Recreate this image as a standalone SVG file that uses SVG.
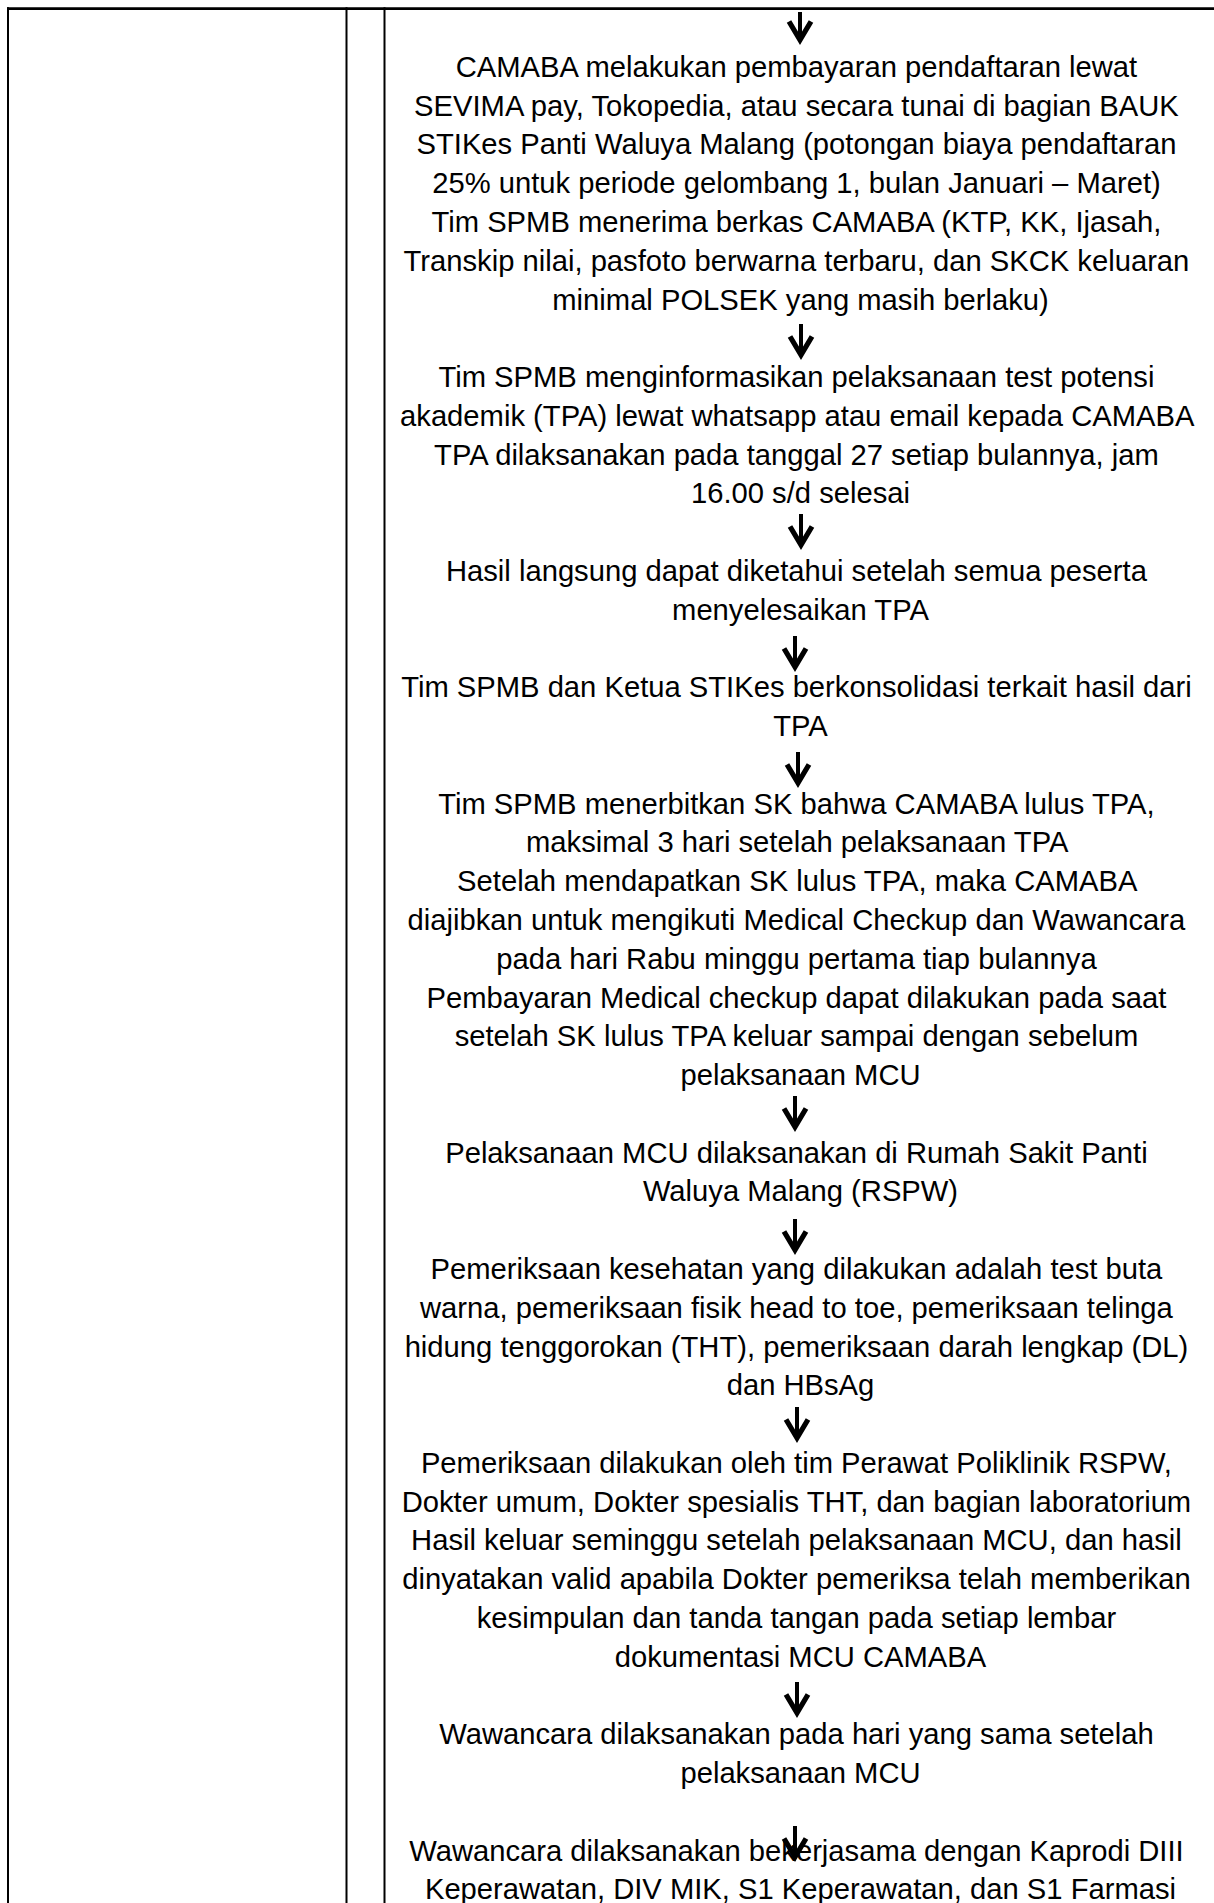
<svg xmlns="http://www.w3.org/2000/svg" width="1214" height="1903" viewBox="0 0 1214 1903">
  <style>
    .rule { stroke: #000; stroke-width: 2; fill: none; }
    .top { stroke: #000; stroke-width: 2.6; fill: none; }
    .step { font-family: "Liberation Sans", Arial, sans-serif; font-size: 29.2px; fill: #000; text-anchor: middle; }
    .arrow { stroke: #000; stroke-width: 4; fill: none; marker-end: url(#head); }
  </style>
  <defs>
    <marker id="head" viewBox="-24 -16 32 32" markerWidth="32" markerHeight="32" refX="0" refY="0" orient="auto" markerUnits="userSpaceOnUse">
      <path d="M-18.5,-11 L0,0 L-18.5,11" fill="none" stroke="#000" stroke-width="5.2" stroke-linejoin="miter" stroke-miterlimit="10"/>
    </marker>
  </defs>
  <rect width="1214" height="1903" fill="#fff"/>

  <g id="table">
    <line class="top" x1="7" y1="8.6" x2="1214" y2="8.6"/>
    <line class="rule" x1="8" y1="7.3" x2="8" y2="1903"/>
    <line class="rule" x1="346.5" y1="7.3" x2="346.5" y2="1903"/>
    <line class="rule" x1="384.5" y1="7.3" x2="384.5" y2="1903"/>
  </g>

  <g id="step-1">
    <text class="step">
      <tspan x="800.5" y="76.8">CAMABA melakukan pembayaran pendaftaran lewat</tspan>
      <tspan x="800.5" y="115.6">SEVIMA pay, Tokopedia, atau secara tunai di bagian BAUK</tspan>
      <tspan x="800.5" y="154.4">STIKes Panti Waluya Malang (potongan biaya pendaftaran</tspan>
      <tspan x="800.5" y="193.1">25% untuk periode gelombang 1, bulan Januari – Maret)</tspan>
      <tspan x="800.5" y="231.9">Tim SPMB menerima berkas CAMABA (KTP, KK, Ijasah,</tspan>
      <tspan x="800.5" y="270.7">Transkip nilai, pasfoto berwarna terbaru, dan SKCK keluaran</tspan>
      <tspan x="800.5" y="309.5">minimal POLSEK yang masih berlaku)</tspan>
    </text>
  </g>
  <g id="step-2">
    <text class="step">
      <tspan x="800.5" y="387.0">Tim SPMB menginformasikan pelaksanaan test potensi</tspan>
      <tspan x="800.5" y="425.8">akademik (TPA) lewat whatsapp atau email kepada CAMABA</tspan>
      <tspan x="800.5" y="464.6">TPA dilaksanakan pada tanggal 27 setiap bulannya, jam</tspan>
      <tspan x="800.5" y="503.4">16.00 s/d selesai</tspan>
    </text>
  </g>
  <g id="step-3">
    <text class="step">
      <tspan x="800.5" y="580.9">Hasil langsung dapat diketahui setelah semua peserta</tspan>
      <tspan x="800.5" y="619.7">menyelesaikan TPA</tspan>
    </text>
  </g>
  <g id="step-4">
    <text class="step">
      <tspan x="800.5" y="697.3">Tim SPMB dan Ketua STIKes berkonsolidasi terkait hasil dari</tspan>
      <tspan x="800.5" y="736.1">TPA</tspan>
    </text>
  </g>
  <g id="step-5">
    <text class="step">
      <tspan x="800.5" y="813.6">Tim SPMB menerbitkan SK bahwa CAMABA lulus TPA,</tspan>
      <tspan x="800.5" y="852.4">maksimal 3 hari setelah pelaksanaan TPA</tspan>
      <tspan x="800.5" y="891.2">Setelah mendapatkan SK lulus TPA, maka CAMABA</tspan>
      <tspan x="800.5" y="930.0">diajibkan untuk mengikuti Medical Checkup dan Wawancara</tspan>
      <tspan x="800.5" y="968.7">pada hari Rabu minggu pertama tiap bulannya</tspan>
      <tspan x="800.5" y="1007.5">Pembayaran Medical checkup dapat dilakukan pada saat</tspan>
      <tspan x="800.5" y="1046.3">setelah SK lulus TPA keluar sampai dengan sebelum</tspan>
      <tspan x="800.5" y="1085.1">pelaksanaan MCU</tspan>
    </text>
  </g>
  <g id="step-6">
    <text class="step">
      <tspan x="800.5" y="1162.6">Pelaksanaan MCU dilaksanakan di Rumah Sakit Panti</tspan>
      <tspan x="800.5" y="1201.4">Waluya Malang (RSPW)</tspan>
    </text>
  </g>
  <g id="step-7">
    <text class="step">
      <tspan x="800.5" y="1279.0">Pemeriksaan kesehatan yang dilakukan adalah test buta</tspan>
      <tspan x="800.5" y="1317.8">warna, pemeriksaan fisik head to toe, pemeriksaan telinga</tspan>
      <tspan x="800.5" y="1356.5">hidung tenggorokan (THT), pemeriksaan darah lengkap (DL)</tspan>
      <tspan x="800.5" y="1395.3">dan HBsAg</tspan>
    </text>
  </g>
  <g id="step-8">
    <text class="step">
      <tspan x="800.5" y="1472.9">Pemeriksaan dilakukan oleh tim Perawat Poliklinik RSPW,</tspan>
      <tspan x="800.5" y="1511.7">Dokter umum, Dokter spesialis THT, dan bagian laboratorium</tspan>
      <tspan x="800.5" y="1550.4">Hasil keluar seminggu setelah pelaksanaan MCU, dan hasil</tspan>
      <tspan x="800.5" y="1589.2">dinyatakan valid apabila Dokter pemeriksa telah memberikan</tspan>
      <tspan x="800.5" y="1628.0">kesimpulan dan tanda tangan pada setiap lembar</tspan>
      <tspan x="800.5" y="1666.8">dokumentasi MCU CAMABA</tspan>
    </text>
  </g>
  <g id="step-9">
    <text class="step">
      <tspan x="800.5" y="1744.3">Wawancara dilaksanakan pada hari yang sama setelah</tspan>
      <tspan x="800.5" y="1783.1">pelaksanaan MCU</tspan>
    </text>
  </g>
  <g id="step-10">
    <text class="step">
      <tspan x="800.5" y="1860.7">Wawancara dilaksanakan bekerjasama dengan Kaprodi DIII</tspan>
      <tspan x="800.5" y="1899.4">Keperawatan, DIV MIK, S1 Keperawatan, dan S1 Farmasi</tspan>
    </text>
  </g>

  <g id="connectors">
    <line class="arrow" x1="800" y1="12" x2="800" y2="40"/>
    <line class="arrow" x1="801" y1="324" x2="801" y2="355"/>
    <line class="arrow" x1="801" y1="514" x2="801" y2="545"/>
    <line class="arrow" x1="795" y1="636" x2="795" y2="667"/>
    <line class="arrow" x1="798" y1="752" x2="798" y2="783"/>
    <line class="arrow" x1="795" y1="1096" x2="795" y2="1127"/>
    <line class="arrow" x1="795" y1="1219" x2="795" y2="1250"/>
    <line class="arrow" x1="797" y1="1407" x2="797" y2="1438"/>
    <line class="arrow" x1="797" y1="1682" x2="797" y2="1713"/>
    <line class="arrow" x1="795" y1="1826" x2="795" y2="1857"/>
  </g>
</svg>
